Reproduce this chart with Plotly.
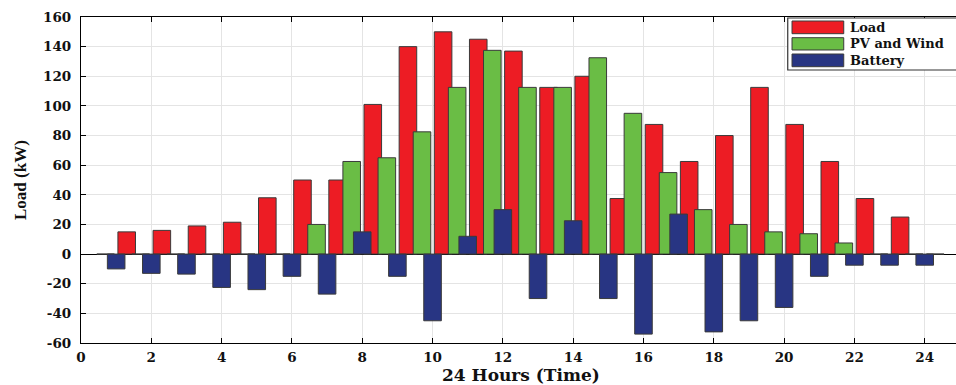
import plotly.graph_objects as go

# ---- data ----
hours = list(range(1, 25))
load = [15, 16, 19, 21.5, 38, 50, 50, 101, 140, 150, 145, 137, 112.5, 120,
        37.5, 87.5, 62.5, 80, 112.5, 87.5, 62.5, 37.5, 25, 0]
pv_wind = [0, 0, 0, 0, 0, 0, 20, 62.5, 65, 82.5, 112.5, 137.5, 112.5, 112.5,
           132.5, 95, 55, 30, 20, 15, 13.75, 7.5, 0, 0]
battery = [-10, -13, -13.5, -22.5, -24, -15, -27, 15, -15, -45, 12, 30, -30, 22.5,
           -30, -54, 27, -52.5, -45, -36, -15, -7.5, -7.5, -7.5]
series_names = ["Load", "PV and Wind", "Battery"]
x_ticks = list(range(0, 25, 2))
y_ticks = list(range(-60, 161, 20))
y_tick_labels = [str(v) for v in y_ticks]

# ---- style ----
RED = "#ED1C24"
GREEN = "#6ABD45"
BLUE = "#283583"
EDGE = "#3a3a3a"
TICK_FONT = dict(family="DejaVu Serif", size=13.5, color="#111111", weight="bold")

fig = go.Figure()
for name, vals, col, off in [(series_names[0], load, RED, 0.05),
                             (series_names[1], pv_wind, GREEN, -0.55),
                             (series_names[2], battery, BLUE, -0.25)]:
    fig.add_trace(go.Bar(x=hours, y=vals, name=name, width=0.5, offset=off,
                         marker=dict(color=col, line=dict(color=EDGE, width=1)),
                         showlegend=False))

fig.update_layout(
    width=956, height=385,
    margin=dict(l=81, r=0, t=17, b=42),
    barmode="overlay",
    plot_bgcolor="white", paper_bgcolor="white",
    xaxis=dict(range=[0, 24.89], tickvals=x_ticks, ticks="inside", ticklen=5,
               tickcolor="black", showline=True, linecolor="black", linewidth=1.2,
               mirror="ticks", showgrid=True, gridcolor="#e4e4e4", gridwidth=1,
               zeroline=False, tickfont=TICK_FONT, ticklabelstandoff=2,
               automargin=False),
    yaxis=dict(range=[-60, 160], tickvals=y_ticks, ticktext=y_tick_labels,
               ticks="inside", ticklen=5, tickcolor="black", showline=True,
               linecolor="black", linewidth=1.2, showgrid=True, gridcolor="#e4e4e4",
               gridwidth=1, zeroline=True, zerolinecolor="black", zerolinewidth=1,
               tickfont=TICK_FONT, ticklabelstandoff=6, automargin=False),
)

# axis titles
fig.add_annotation(text="24 Hours (Time)", xref="paper", yref="paper", x=0.503, y=-0.097,
                   xanchor="center", yanchor="middle", showarrow=False,
                   font=dict(family="DejaVu Serif", size=17, color="#111111", weight="bold"))
fig.add_annotation(text="Load (kW)", xref="paper", yref="paper", x=-0.0697, y=0.5,
                   xanchor="center", yanchor="middle", showarrow=False, textangle=-90,
                   font=dict(family="Liberation Serif", size=17, color="#111111", weight="bold"))

# ---- legend box drawn as shapes + text ----
fig.add_shape(type="rect", xref="paper", yref="paper", x0=0.8077, x1=1.02,
              y0=0.8374, y1=0.997, line=dict(color="#333333", width=1.2),
              fillcolor="white", layer="above")
patch_y = [(0.9488, 0.9877), (0.8988, 0.9365), (0.8475, 0.8865)]
text_y = [0.9672, 0.9178, 0.8672]
for name, col, (y0, y1), ty in zip(series_names, [RED, GREEN, BLUE], patch_y, text_y):
    fig.add_shape(type="rect", xref="paper", yref="paper", x0=0.8126, x1=0.8717,
                  y0=y0, y1=y1, line=dict(color=EDGE, width=1), fillcolor=col,
                  layer="above")
    fig.add_annotation(text=name, xref="paper", yref="paper", x=0.8766, y=ty,
                       xanchor="left", yanchor="middle", showarrow=False,
                       font=dict(family="DejaVu Serif", size=13, color="#111111",
                                 weight="bold"))

fig.write_html("out.html", config={"displayModeBar": False},
               post_script="document.body.style.margin='0px';"
                           "document.body.style.overflow='hidden';")
